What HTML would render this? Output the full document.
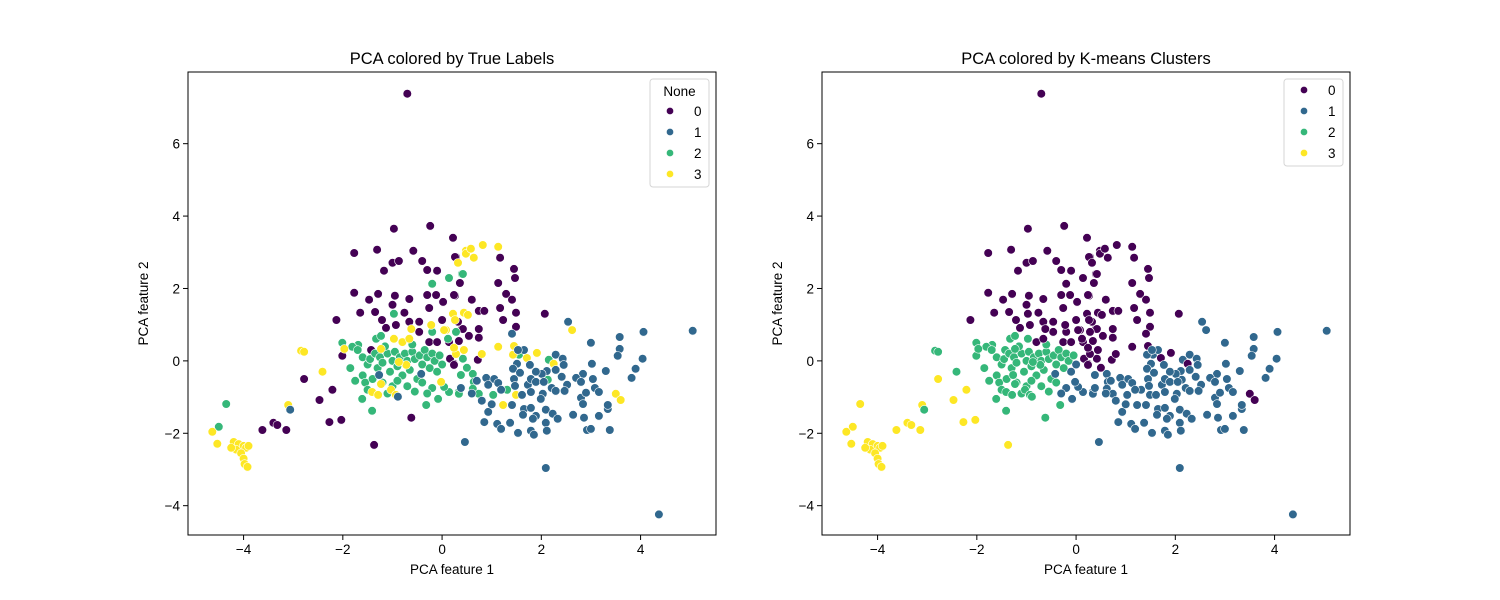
<!DOCTYPE html>
<html><head><meta charset="utf-8">
<style>
html,body{margin:0;padding:0;background:#fff;}
svg{display:block;font-family:"Liberation Sans","DejaVu Sans",sans-serif;}
</style></head>
<body>
<svg id="fig" width="1500" height="600" viewBox="0 0 1500 600" xmlns="http://www.w3.org/2000/svg">
<rect width="1500" height="600" fill="#fff"/>
</svg>
<script>
// data: [pca1, pca2, trueLabel, kmeansLabel]
const points = [
[-0.7,7.38,0,0],[-0.97,3.65,0,0],[-0.24,3.73,0,0],[0.22,3.4,0,0],[-1.77,2.98,0,0],[-1.31,3.07,0,0],[-0.58,3.04,0,0],
[-1.0,2.71,0,0],[-0.87,2.76,0,0],[-1.17,2.49,0,0],[-0.4,2.76,0,0],[-0.3,2.51,0,0],[-0.1,2.49,0,0],[0.28,2.87,0,0],
[-1.77,1.88,0,0],[-1.47,1.69,0,0],[-1.29,1.85,0,0],[-0.95,1.8,0,0],[-0.66,1.71,0,0],[-0.3,1.82,0,0],[-0.12,1.82,0,0],
[0.02,1.63,0,0],[0.26,1.8,0,0],[-2.13,1.13,0,0],[-1.65,1.33,0,0],[-1.35,1.35,0,0],[-1.21,1.13,0,0],[-1.0,1.55,0,0],
[-0.76,1.33,0,0],[-0.66,1.08,0,0],[-0.46,1.08,0,0],[-0.26,1.46,0,0],[0,1.13,0,0],[-1.13,0.91,0,0],[-0.93,0.99,0,0],
[-0.46,0.8,0,0],[-0.26,0.52,0,0],[-0.1,0.52,0,0],[0.14,0.52,0,0],[0.4,0.88,0,0],[-2.01,0.14,0,2],[-1.43,0.3,0,2],
[0.24,-0.08,0,0],[-2.78,-0.5,0,3],[-2.21,-0.8,0,3],[-2.47,-1.08,0,3],[-2.27,-1.69,0,3],[-2.03,-1.63,0,3],[-3.4,-1.71,0,3],
[-3.32,-1.77,0,3],[-3.14,-1.91,0,3],[-3.62,-1.91,0,3],[-1.37,-2.32,0,3],[-0.62,-1.57,0,2],
[0.26,2.87,0,0],[1.17,2.85,0,0],[1.45,2.54,0,0],[1.47,2.29,0,0],[1.13,2.15,0,0],[0.36,2.15,0,0],[0.24,1.82,0,0],
[0.6,1.69,0,0],[1.29,1.85,0,0],[1.41,1.69,0,0],[0.74,1.38,0,0],[0.85,1.38,0,0],[1.17,1.46,0,0],[1.49,1.33,0,0],
[2.07,1.3,0,0],[1.23,1.13,0,0],[1.49,0.94,0,0],[0.32,1.08,0,0],[0.42,0.88,0,0],[0.74,0.88,0,0],[0.54,0.69,0,0],
[0.74,0.64,0,0],[0.34,0.55,0,0],[0.16,0.06,0,0],[0.24,-0.11,0,0],[0.72,0.03,0,0],
[-0.2,2.13,2,0],[0.14,2.29,2,0],[0.4,2.4,2,0],[-0.97,1.3,2,0],[-0.2,0.8,2,0],[-2.01,0.5,2,2],[-1.69,0.44,2,2],
[-1.81,0.39,2,2],[-1.33,0.61,2,2],[-1.23,0.69,2,2],[-4.35,-1.19,2,3],[-4.5,-1.82,2,3],[-1.41,-1.38,2,2],[-1.61,-1.05,2,2],
[-0.32,-1.22,2,2],[-0.08,-1.05,2,1],[0.14,-0.86,2,1],[0.34,-0.86,2,1],
[-1.6,0.1,2,2],[-1.5,-0.1,2,2],[-1.45,0.05,2,2],[-1.35,0.2,2,2],[-1.3,-0.2,2,2],[-1.25,0.1,2,2],[-1.2,-0.05,2,2],
[-1.1,0.2,2,2],[-1.05,-0.3,2,2],[-1.0,0.0,2,2],[-0.95,0.25,2,2],[-0.9,-0.15,2,2],[-0.85,0.1,2,2],[-0.8,-0.4,2,2],
[-0.75,0.2,2,2],[-0.7,0.0,2,2],[-0.65,-0.25,2,2],[-0.6,0.25,2,2],[-0.55,0.05,2,2],[-0.5,-0.5,2,2],[-0.45,0.15,2,2],
[-0.4,-0.1,2,2],[-0.35,0.3,2,2],[-0.3,0.1,2,2],[-0.25,-0.2,2,2],[-0.2,0.2,2,2],[-0.15,0.0,2,2],[-0.1,-0.3,2,1],
[-0.05,0.15,2,2],[0.0,-0.1,2,1],[-1.6,-0.4,2,2],[-1.55,-0.6,2,2],[-1.4,-0.5,2,2],[-1.2,-0.6,2,2],[-1.0,-0.7,2,2],
[-0.9,-0.55,2,2],[-0.7,-0.7,2,2],[-0.55,-0.85,2,2],[-0.4,-0.6,2,2],[-0.2,-0.75,2,1],[-1.7,0.3,2,2],[-1.15,0.4,2,2],
[-0.6,0.45,2,2],[-1.5,-0.8,2,2],[-0.3,-0.9,2,1],[-1.85,-0.2,2,2],[-1.75,-0.55,2,2],[-1.1,-0.9,2,2],
[0.14,2.29,2,0],[0.42,2.4,2,0],[0.28,0.8,2,0],[0.12,0.61,2,0],[0.42,0.06,2,0],[0.5,-0.19,2,0],[0.38,-0.39,2,1],
[0.62,-0.36,2,1],[0.64,-0.58,2,1],[0.62,-0.77,2,1],[0.74,-0.91,2,1],[1.03,-0.94,2,1],[1.31,-0.8,2,1],[1.55,0.17,2,1],
[2.15,0.03,2,1],[2.13,-0.52,2,1],[0.14,-0.86,2,1],[0.34,-0.91,2,1],[0.04,-0.72,2,1],
[-2.84,0.28,3,2],[-2.78,0.25,3,2],[-2.41,-0.3,3,2],[-3.1,-1.22,3,3],[-4.63,-1.96,3,3],[-4.53,-2.29,3,3],
[-4.2,-2.24,3,3],[-4.1,-2.3,3,3],[-4.0,-2.35,3,3],[-3.95,-2.4,3,3],[-4.15,-2.45,3,3],[-4.05,-2.55,3,3],[-4.0,-2.7,3,3],
[-3.98,-2.85,3,3],[-3.92,-2.93,3,3],[-4.25,-2.4,3,3],[-3.9,-2.35,3,3],
[-1.97,0.33,3,2],[-1.23,0.33,3,2],[-0.97,0.61,3,2],[-0.8,0.52,3,0],[-0.62,0.88,3,0],[-0.66,0.61,3,0],[-0.22,0.99,3,0],
[0.08,0.85,3,0],[0.22,1.3,3,0],[0.28,0.19,3,0],[-0.72,-0.11,3,2],[-0.87,-0.03,3,2],[-1.23,-0.64,3,2],[-1.41,-0.86,3,2],
[-1.29,-0.94,3,2],[-1.03,-0.8,3,2],[-0.93,-0.94,3,2],[-0.02,-0.58,3,1],[0.32,2.71,3,0],[0.48,3.04,3,0],
[0.48,2.96,3,0],[0.58,3.1,3,0],[0.82,3.2,3,0],[1.13,3.15,3,0],[0.64,2.85,3,0],[0.22,1.3,3,0],[0.44,1.33,3,0],
[0.52,1.27,3,0],[0.26,1.13,3,0],[0.04,0.85,3,0],[1.13,0.39,3,0],[1.45,0.41,3,0],[1.43,0.17,3,1],[1.71,0.08,3,0],
[1.91,0.22,3,0],[2.25,-0.08,3,0],[2.62,0.85,3,1],[0.24,0.36,3,0],[0.44,0.3,3,0],[0.8,0.19,3,0],[3.5,-0.91,3,0],
[3.6,-1.08,3,0],[1.23,-1.22,3,1],[1.49,-0.94,3,1],
[-3.06,-1.35,1,2],[-1.27,-0.39,1,2],[-0.42,-0.36,1,1],[-0.89,-0.99,1,2],[0.38,-0.75,1,1],[0.46,-2.24,1,1],
[1.41,0.75,1,0],[2.54,1.08,1,1],[4.06,0.8,1,1],[5.05,0.83,1,1],[3.0,0.5,1,1],[3.58,0.66,1,1],[3.58,0.33,1,1],
[3.54,0.14,1,1],[4.04,0.06,1,1],[3.9,-0.22,1,1],[3.82,-0.47,1,1],[3.3,-0.28,1,1],[3.02,-0.08,1,1],[3.04,-0.5,1,1],
[2.84,-0.36,1,1],[2.7,-0.47,1,1],[2.8,-0.58,1,1],[2.52,-0.66,1,1],[2.47,-0.83,1,1],[2.41,-0.44,1,1],[2.29,0.17,1,1],
[2.43,0.06,1,1],[2.45,-0.11,1,1],[2.29,-0.25,1,1],[2.11,-0.28,1,1],[2.01,-0.36,1,1],[1.89,-0.3,1,1],[1.77,-0.11,1,1],
[1.65,0.3,1,1],[1.53,0.3,1,1],[1.51,-0.08,1,1],[1.43,-0.22,1,1],[1.57,-0.33,1,1],[1.45,-0.5,1,1],[1.47,-0.69,1,1],
[1.61,-0.94,1,1],[1.73,-0.66,1,1],[1.79,-0.5,1,1],[1.79,-0.86,1,1],[1.89,-0.58,1,1],[2.05,-0.58,1,1],[2.21,-0.75,1,1],
[2.29,-0.83,1,1],[2.03,-0.91,1,1],[1.99,-1.05,1,1],[0.89,-0.47,1,1],[1.05,-0.5,1,1],[1.13,-0.61,1,1],[1.19,-0.8,1,1],
[0.93,-0.66,1,1],[1.41,-1.22,1,1],[1.65,-1.33,1,1],[1.79,-1.3,1,1],[1.89,-1.52,1,1],[1.63,-1.49,1,1],[1.83,-1.6,1,1],
[2.09,-1.35,1,1],[2.23,-1.46,1,1],[2.33,-1.6,1,1],[2.09,-1.71,1,1],[2.64,-1.49,1,1],[2.86,-1.57,1,1],[3.16,-1.52,1,1],
[3.34,-1.33,1,1],[3.34,-1.22,1,1],[2.8,-1.02,1,1],[2.84,-1.19,1,1],[2.9,-0.88,1,1],[3.08,-0.75,1,1],[3.16,-0.86,1,1],
[0.93,-1.41,1,1],[0.85,-1.69,1,1],[1.11,-1.74,1,1],[1.19,-1.88,1,1],[1.37,-1.71,1,1],[1.53,-1.99,1,1],[1.79,-1.93,1,1],
[1.85,-2.04,1,1],[2.11,-1.93,1,1],[2.92,-1.91,1,1],[3.0,-1.88,1,1],[3.38,-1.91,1,1],[2.09,-2.96,1,1],[4.37,-4.24,1,1],
[0.6,-0.9,1,1],[0.8,-1.1,1,1],[1.0,-1.2,1,1],[0.7,-0.55,1,1]
];
const xTicks = [-4,-2,0,2,4];
const yTicks = [-4,-2,0,2,4,6];
const classLabels = ['0','1','2','3'];
const palette = ['#440154','#31688e','#35b779','#fde725'];

const NS='http://www.w3.org/2000/svg';
const svg=document.getElementById('fig');
function mk(tag,attrs,parent){const e=document.createElementNS(NS,tag);for(const k in attrs)e.setAttribute(k,attrs[k]);(parent||svg).appendChild(e);return e;}

const panels=[
 {left:188,title:'PCA colored by True Labels',col:2,legendTitle:'None',name:'true-labels'},
 {left:822,title:'PCA colored by K-means Clusters',col:3,legendTitle:null,name:'kmeans'}
];
const W=528,TOP=72,BOT=535;
const xmin=-5.12,xmax=5.52,ymin=-4.81,ymax=7.98;

panels.forEach(p=>{
 const g=mk('g',{});
 
 
 const X=v=>p.left+(v-xmin)/(xmax-xmin)*W;
 const Y=v=>BOT-(v-ymin)/(ymax-ymin)*(BOT-TOP);
 const pts=mk('g',{},g);
 
 
 points.forEach(d=>{
  const c=mk('circle',{cx:X(d[0]).toFixed(1),cy:Y(d[1]).toFixed(1),r:4.3,fill:palette[d[p.col]],stroke:'#fff','stroke-width':0.6},pts);
  
  
 });
 const fr=mk('rect',{x:p.left,y:TOP,width:W,height:BOT-TOP,fill:'none',stroke:'#000','stroke-width':1},g);
 
 
 xTicks.forEach(t=>{
  const x=X(t);
  mk('line',{x1:x,x2:x,y1:BOT,y2:BOT+5,stroke:'#000','stroke-width':1},g);
  const tx=mk('text',{x:x,y:BOT+19,'text-anchor':'middle','font-size':13.5,fill:'#000'},g);
  tx.textContent=(t<0?'\u2212':'')+Math.abs(t);
  
  
 });
 yTicks.forEach(t=>{
  const y=Y(t);
  mk('line',{x1:p.left-5,x2:p.left,y1:y,y2:y,stroke:'#000','stroke-width':1},g);
  const tx=mk('text',{x:p.left-8,y:y+5,'text-anchor':'end','font-size':13.5,fill:'#000'},g);
  tx.textContent=(t<0?'\u2212':'')+Math.abs(t);
  
  
 });
 const tt=mk('text',{x:p.left+W/2,y:64,'text-anchor':'middle','font-size':16.5,fill:'#000'},g);
 tt.textContent=p.title;
 
 
 const xl=mk('text',{x:p.left+W/2,y:574,'text-anchor':'middle','font-size':13.5,fill:'#000'},g);
 xl.textContent='PCA feature 1';
 
 
 const cy=(TOP+BOT)/2;
 const yl=mk('text',{x:p.left-40,y:cy,'text-anchor':'middle','font-size':13.5,fill:'#000',transform:`rotate(-90 ${p.left-40} ${cy})`},g);
 yl.textContent='PCA feature 2';
 
 
 // legend
 const lg=mk('g',{},g);
 
 
 const lx=p.left+W-66, ly=79;
 const hasT=!!p.legendTitle;
 const h=hasT?108:87;
 mk('rect',{x:lx,y:ly,width:59,height:h,rx:3,fill:'#fff','fill-opacity':0.8,stroke:'#d6d6d6','stroke-width':1},lg);
 let y0=ly+11;
 if(hasT){
  const lt=mk('text',{x:lx+29.5,y:ly+17,'text-anchor':'middle','font-size':13.5,fill:'#000'},lg);
  lt.textContent=p.legendTitle;
  
  
  y0=ly+32;
 }
 classLabels.forEach((lab,i)=>{
  const yy=y0+i*21;
  const e=mk('g',{},lg);
  
  
  mk('circle',{cx:lx+20,cy:yy,r:3.6,fill:palette[i],stroke:'#fff','stroke-width':0.5},e);
  const t=mk('text',{x:lx+44,y:yy+5,'font-size':13.5,fill:'#000'},e);
  t.textContent=lab;
 });
});
</script>
</body></html>
